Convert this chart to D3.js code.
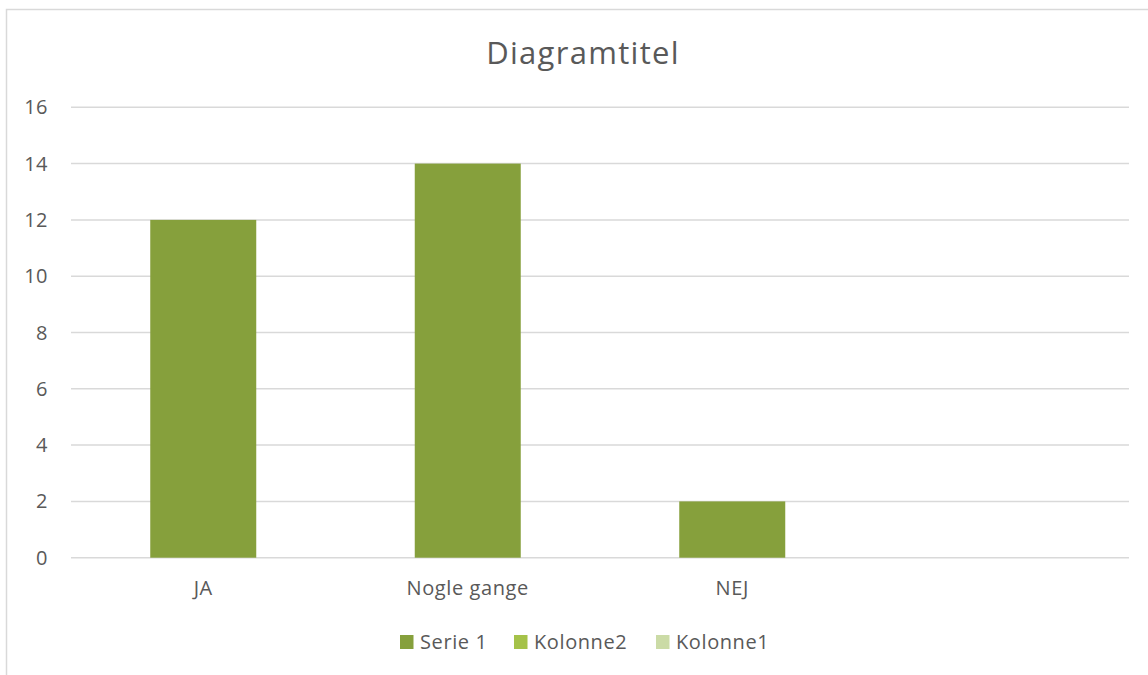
<!DOCTYPE html>
<html>
<head>
<meta charset="utf-8">
<script src="https://cdn.jsdelivr.net/npm/d3@7"></script>
<style>
body { margin: 0; background: #fff; }
svg text { font-family: "Open Sans", "Noto Sans", sans-serif; fill: #595959; }
</style>
</head>
<body>
<div id="chart"></div>
<script>
// data
var categories = ["JA", "Nogle gange", "NEJ", ""]
var serie1 = [12, 14, 2, null]
var seriesNames = ["Serie 1", "Kolonne2", "Kolonne1"]
var seriesColors = ["#86A03C", "#A5C249", "#CBDBA6"]
var yTicks = [0, 2, 4, 6, 8, 10, 12, 14, 16]

var width = 1148, height = 675
var plot = { left: 71, right: 1129, top: 107.3, bottom: 557.7 }

var svg = d3.select("#chart").append("svg")
	.attr("width", width)
	.attr("height", height)

// chart border
svg.append("rect")
	.attr("x", 6.5).attr("y", 9.5)
	.attr("width", 1160).attr("height", 700)
	.attr("fill", "#fff")
	.attr("stroke", "#D9D9D9")
	.attr("stroke-width", 1.5)

svg.append("text")
	.attr("x", 583).attr("y", 64)
	.attr("text-anchor", "middle")
	.style("font-size", "31px")
	.style("letter-spacing", "1.3px")
	.text("Diagramtitel")

var xCat = d3.scaleBand()
	.domain(d3.range(categories.length))
	.range([plot.left, plot.right])

var y = d3.scaleLinear()
	.domain([0, 16])
	.range([plot.bottom, plot.top])

// gridlines
svg.append("g")
	.selectAll("line")
	.data(yTicks)
	.enter()
	.append("line")
	.attr("x1", plot.left).attr("x2", plot.right)
	.attr("y1", function(d) { return y(d) })
	.attr("y2", function(d) { return y(d) })
	.attr("stroke", "#D9D9D9")
	.attr("stroke-width", 1.5)

// y labels
svg.append("g")
	.selectAll("text")
	.data(yTicks)
	.enter()
	.append("text")
	.attr("x", 48)
	.attr("y", function(d) { return y(d) + 7 })
	.attr("text-anchor", "end")
	.style("font-size", "20px")
	.style("letter-spacing", "0.5px")
	.text(function(d) { return d })

// bars
svg.append("g")
	.selectAll("rect")
	.data(serie1)
	.enter()
	.filter(function(d) { return d != null })
	.append("rect")
	.attr("x", function(d, i) { return xCat(i) + xCat.bandwidth() / 2 - 53 })
	.attr("width", 106)
	.attr("y", function(d) { return y(d) })
	.attr("height", function(d) { return y(0) - y(d) })
	.attr("fill", seriesColors[0])

// category labels
svg.append("g")
	.selectAll("text")
	.data(categories)
	.enter()
	.append("text")
	.attr("x", function(d, i) { return xCat(i) + xCat.bandwidth() / 2 })
	.attr("y", 595)
	.attr("text-anchor", "middle")
	.style("font-size", "20px")
	.style("letter-spacing", "0.6px")
	.text(function(d) { return d })

// legend
var legendX = [400, 514, 656]
var legend = svg.append("g")
	.selectAll("g")
	.data(seriesNames)
	.enter()
	.append("g")
	.attr("transform", function(d, i) { return "translate(" + legendX[i] + ",635)" })

legend.append("rect")
	.attr("width", 13.5).attr("height", 14)
	.attr("fill", function(d, i) { return seriesColors[i] })

legend.append("text")
	.attr("x", 20).attr("y", 14)
	.style("font-size", "20px")
	.style("letter-spacing", "0.6px")
	.text(function(d) { return d })
</script>
</body>
</html>
